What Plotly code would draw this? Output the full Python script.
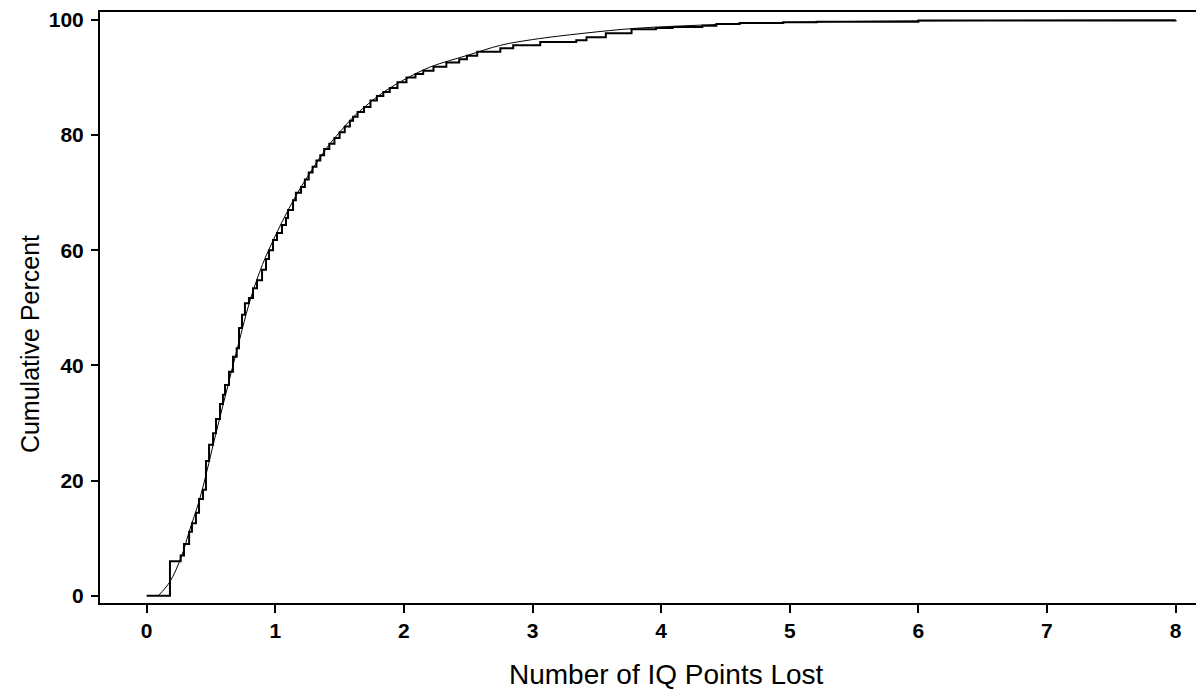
import plotly.graph_objects as go

# Empirical CDF (jump location, cumulative percent after jump)
ecdf_x = [0.0, 0.181, 0.264, 0.29, 0.33, 0.352, 0.383, 0.407, 0.438, 0.461, 0.485, 0.516,
          0.539, 0.570, 0.593, 0.609, 0.640, 0.671, 0.70, 0.718, 0.741, 0.764, 0.795, 0.827,
          0.858, 0.897, 0.928, 0.951, 0.982, 1.013, 1.052, 1.083, 1.099, 1.138, 1.16, 1.20,
          1.23, 1.26, 1.29, 1.32, 1.35, 1.38, 1.42, 1.46, 1.50, 1.54, 1.58, 1.605, 1.64,
          1.69, 1.74, 1.79, 1.84, 1.89, 1.95, 2.02, 2.09, 2.15, 2.23, 2.33, 2.43, 2.49,
          2.57, 2.75, 2.85, 3.06, 3.34, 3.42, 3.57, 3.77, 3.96, 4.09, 4.32, 4.43, 4.61,
          4.95, 5.21, 6.0, 8.0]
ecdf_y = [0.0, 6.0, 7.0, 9.0, 11.1, 12.6, 14.4, 16.8, 18.4, 23.4, 26.2, 28.2,
          30.7, 33.3, 34.9, 36.6, 38.9, 41.5, 43.0, 46.5, 48.8, 50.8, 51.7, 53.4,
          54.8, 56.6, 58.5, 60.0, 61.8, 63.0, 64.4, 65.6, 67.0, 68.7, 70.0, 71.0,
          72.3, 73.5, 74.5, 75.6, 76.5, 77.6, 78.5, 79.5, 80.5, 81.5, 82.5, 83.2, 84.0,
          84.9, 86.0, 86.8, 87.5, 88.2, 89.2, 90.0, 90.6, 91.2, 91.9, 92.6, 93.2, 93.8,
          94.5, 95.1, 95.6, 96.2, 96.5, 97.0, 97.7, 98.4, 98.6, 98.8, 99.0, 99.3, 99.5,
          99.6, 99.7, 99.9, 100.0]

# Fitted distribution curve
fit_x = [0.09, 0.18, 0.27, 0.33, 0.41, 0.47, 0.52, 0.59, 0.70, 0.80, 0.90, 1.0, 1.1,
         1.2, 1.3, 1.4, 1.5, 1.6, 1.7, 1.8, 1.9, 2.0, 2.2, 2.5, 2.75, 3.0, 3.4, 3.8,
         4.3, 4.8, 5.3, 6.0, 7.0, 8.0]
fit_y = [0.0, 2.4, 6.8, 11.1, 16.6, 21.8, 26.5, 32.8, 42.5, 51.0, 57.5, 62.5, 67.0,
         71.0, 74.5, 77.8, 80.5, 83.0, 85.0, 86.8, 88.3, 89.6, 91.8, 93.9, 95.6, 96.6,
         97.7, 98.55, 99.1, 99.5, 99.7, 99.85, 99.95, 100.0]

x_ticks = [0, 1, 2, 3, 4, 5, 6, 7, 8]
y_ticks = [0, 20, 40, 60, 80, 100]
x_title = "Number of IQ Points Lost"
y_title = "Cumulative Percent"

FONT = "Liberation Sans, Arial, sans-serif"

fig = go.Figure()
fig.add_trace(go.Scatter(x=fit_x, y=fit_y, mode="lines", line_shape="spline",
                         line=dict(color="black", width=1), showlegend=False,
                         hoverinfo="skip"))
fig.add_trace(go.Scatter(x=ecdf_x, y=ecdf_y, mode="lines", line_shape="hv",
                         line=dict(color="black", width=2), showlegend=False))

fig.update_layout(
    width=1196, height=689,
    margin=dict(l=100, r=0, t=12, b=86),
    paper_bgcolor="white", plot_bgcolor="white",
    font=dict(family=FONT, color="black"),
    xaxis=dict(range=[-0.363, 8.159], tickvals=x_ticks,
               ticks="outside", ticklen=8, tickwidth=2, tickcolor="black",
               showline=True, linewidth=2, linecolor="black", mirror=True,
               showgrid=False, zeroline=False,
               tickfont=dict(size=21, family=FONT, weight="bold")),
    yaxis=dict(range=[-1.27, 101.39], tickvals=y_ticks,
               ticks="outside", ticklen=7, tickwidth=2, tickcolor="black",
               showline=True, linewidth=2, linecolor="black", mirror=False,
               showgrid=False, zeroline=False, ticklabelstandoff=3,
               tickfont=dict(size=21, family=FONT, weight="bold")),
    annotations=[
        dict(text=x_title, xref="paper", yref="paper", x=0.517, y=-0.1218,
             xanchor="center", yanchor="middle", showarrow=False,
             font=dict(size=28, family=FONT, color="black")),
        dict(text=y_title, xref="paper", yref="paper", x=-0.0639, y=0.438,
             xanchor="center", yanchor="middle", showarrow=False, textangle=-90,
             font=dict(size=25, family=FONT, color="black")),
    ],
)

fig.write_html("out.html")
